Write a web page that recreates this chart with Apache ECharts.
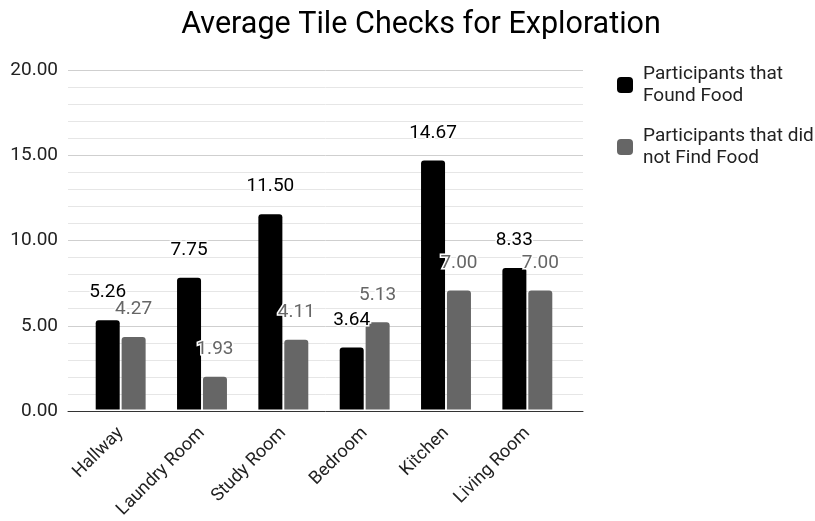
<!DOCTYPE html>
<html>
<head>
<meta charset="utf-8">
<script src="https://cdn.jsdelivr.net/npm/echarts@6/dist/echarts.min.js"></script>
<style>
  html, body { margin: 0; padding: 0; background: #fff; }
  #chart { width: 815px; height: 521px; }
</style>
</head>
<body>
<div id="chart"></div>
<script>
const rooms = ['Hallway', 'Laundry Room', 'Study Room', 'Bedroom', 'Kitchen', 'Living Room'];
const foundFood = [5.26, 7.75, 11.50, 3.64, 14.67, 8.33];
const notFoundFood = [4.27, 1.93, 4.11, 5.13, 7.00, 7.00];
const seriesNames = ['Participants that\nFound Food', 'Participants that did\nnot Find Food'];

const FONT = 'Roboto, "Noto Sans", sans-serif';
const chart = echarts.init(document.getElementById('chart'));

function barLabel(color) {
  return {
    show: true,
    position: 'top',
    distance: 18,
    fontFamily: FONT,
    fontSize: 19,
    color: color,
    textBorderColor: '#fff',
    textBorderWidth: 3,
    formatter: p => p.value.toFixed(2)
  };
}

chart.setOption({
  backgroundColor: '#fff',
  animation: false,
  title: {
    text: 'Average Tile Checks for Exploration',
    left: 416,
    top: 5,
    textAlign: 'center',
    textStyle: { fontFamily: FONT, fontSize: 30.5, fontWeight: 'normal', color: '#000' }
  },
  legend: {
    orient: 'vertical',
    left: 612,
    top: 47,
    itemWidth: 16,
    itemHeight: 16,
    itemGap: -4,
    icon: 'roundRect',
    data: seriesNames,
    textStyle: {
      fontFamily: FONT, fontSize: 19, color: '#222', lineHeight: 22,
      padding: [22, 0, 0, 5]
    }
  },
  grid: [
    // full-width frame: gridlines, value labels, baseline
    { left: 68, right: 232, top: 70, bottom: 110 },
    // inset area holding the category bands
    { left: 80, right: 247, top: 70, bottom: 110 }
  ],
  xAxis: [
    {
      gridIndex: 0, type: 'value', min: 0, max: 1,
      axisLine: { show: true, lineStyle: { color: '#333', width: 1 } },
      axisTick: { show: false }, axisLabel: { show: false }, splitLine: { show: false }
    },
    {
      gridIndex: 1, type: 'category', data: rooms,
      axisLine: { show: false }, axisTick: { show: false },
      axisLabel: { rotate: 45, margin: 21, fontFamily: FONT, fontSize: 18, color: '#222', interval: 0,
                   padding: [0, 0, 0, 0] }
    }
  ],
  yAxis: [
    {
      gridIndex: 0, type: 'value', min: 0, max: 20, interval: 5,
      axisLine: { show: false }, axisTick: { show: false },
      axisLabel: { margin: 10, fontFamily: FONT, fontSize: 19, color: '#222', formatter: v => v.toFixed(2) },
      splitLine: { show: true, lineStyle: { color: '#cfcfcf', width: 1 } },
      minorTick: { show: false, splitNumber: 5 },
      minorSplitLine: { show: true, lineStyle: { color: '#e6e6e6', width: 1 } }
    },
    {
      gridIndex: 1, type: 'value', min: 0, max: 20, interval: 5,
      axisLine: { show: false }, axisTick: { show: false },
      axisLabel: { show: false }, splitLine: { show: false }
    }
  ],
  series: [
    {
      name: seriesNames[0], type: 'bar', xAxisIndex: 1, yAxisIndex: 1,
      data: foundFood, barWidth: 24, barGap: '8%',
      itemStyle: { color: '#000000', borderRadius: [3, 3, 0, 0] },
      label: barLabel('#000')
    },
    {
      name: seriesNames[1], type: 'bar', xAxisIndex: 1, yAxisIndex: 1,
      data: notFoundFood, barWidth: 24,
      itemStyle: { color: '#666666', borderRadius: [3, 3, 0, 0] },
      label: barLabel('#666')
    }
  ]
});
</script>
</body>
</html>
